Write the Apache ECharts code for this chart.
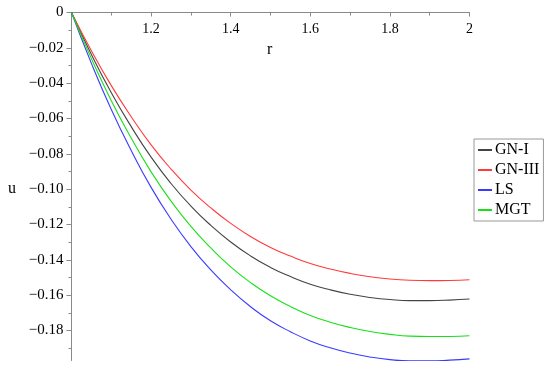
<!DOCTYPE html>
<html><head><meta charset="utf-8">
<script src="https://cdn.jsdelivr.net/npm/echarts@6/dist/echarts.min.js"></script>
<style>html,body{margin:0;padding:0;background:#fff}#c{width:550px;height:370px}</style>
</head><body><div id="c"></div>
<script>
const rValues = [1.00,1.05,1.10,1.15,1.20,1.25,1.30,1.35,1.40,1.45,1.50,1.55,1.60,1.65,1.70,1.75,1.80,1.85,1.90,1.95,2.00];
const gn1  = [0,-0.0238,-0.0454,-0.0646,-0.0819,-0.0968,-0.1096,-0.1205,-0.1299,-0.1378,-0.1443,-0.1495,-0.1538,-0.1570,-0.1595,-0.1613,-0.1625,-0.1631,-0.1631,-0.1628,-0.1622];
const gn3  = [0,-0.0217,-0.0414,-0.0590,-0.0749,-0.0886,-0.1005,-0.1106,-0.1194,-0.1268,-0.1330,-0.1379,-0.1421,-0.1452,-0.1477,-0.1496,-0.1509,-0.1516,-0.1518,-0.1517,-0.1513];
const ls   = [0,-0.0288,-0.0549,-0.0781,-0.0990,-0.1170,-0.1325,-0.1457,-0.1570,-0.1666,-0.1745,-0.1807,-0.1859,-0.1898,-0.1928,-0.1950,-0.1965,-0.1972,-0.1972,-0.1968,-0.1961];
const mgt  = [0,-0.0261,-0.0499,-0.0711,-0.0902,-0.1068,-0.1211,-0.1333,-0.1440,-0.1529,-0.1604,-0.1664,-0.1715,-0.1753,-0.1783,-0.1806,-0.1822,-0.1832,-0.1834,-0.1834,-0.1830];
const seriesNames = ['GN-I','GN-III','LS','MGT'];
const yTicks = [0,-0.02,-0.04,-0.06,-0.08,-0.10,-0.12,-0.14,-0.16,-0.18];
const yMinorTicks = [-0.01,-0.03,-0.05,-0.07,-0.09,-0.11,-0.13,-0.15,-0.17,-0.19];

const font = '"Liberation Serif", "Times New Roman", serif';
const axisGray = '#8a8a8a';
const colors = ['#444444','#ff3a3a','#3a3aff','#18e018'];
const datas = [gn1, gn3, ls, mgt];

const chart = echarts.init(document.getElementById('c'));
chart.setOption({
  animation: false,
  grid: {left: 71.5, right: 80.5, top: 12.5, bottom: 9.5},
  xAxis: {
    type: 'value', position: 'top', min: 1, max: 2, interval: 0.2,
    axisLine: {onZero: false, lineStyle: {color: axisGray, width: 1}},
    axisTick: {show: true, inside: true, length: 4, lineStyle: {color: axisGray}},
    minorTick: {show: true, splitNumber: 2, length: 3, lineStyle: {color: axisGray}},
    splitLine: {show: false},
    axisLabel: {inside: true, margin: 10, color: '#000', fontFamily: font, fontSize: 14,
      showMinLabel: true, showMaxLabel: true,
      formatter: v => (Math.abs(v - 1) < 1e-9 ? '' : String(Math.round(v*10)/10))}
  },
  yAxis: [{
    type: 'value', min: -0.197, max: 0,
    axisLine: {show: true, lineStyle: {color: axisGray, width: 1}},
    axisTick: {show: true, length: 5, customValues: yTicks, lineStyle: {color: axisGray}},
    splitLine: {show: false},
    axisLabel: {customValues: yTicks, margin: 8, color: '#000', fontFamily: font, fontSize: 15,
      formatter: v => (Math.abs(v) < 1e-9 ? '0' : '\u2212' + Math.abs(v).toFixed(2))}
  }, {
    type: 'value', min: -0.197, max: 0, position: 'left',
    axisLine: {show: false},
    axisTick: {show: true, length: 3, customValues: yMinorTicks, lineStyle: {color: axisGray}},
    splitLine: {show: false},
    axisLabel: {show: false}
  }],
  legend: {
    orient: 'vertical', left: 474, top: 139, padding: [3, 4, 3, 4],
    itemWidth: 14, itemHeight: 2, itemGap: 4, icon: 'rect',
    borderColor: '#999', borderWidth: 1, borderRadius: 0,
    textStyle: {fontFamily: font, fontSize: 16, color: '#000', padding: [0,0,0,-2]},
    data: seriesNames
  },
  graphic: [
    {type: 'text', left: 267, top: 42, style: {text: 'r', font: '16px "Liberation Serif"', fill: '#000'}},
    {type: 'text', left: 8, top: 181, style: {text: 'u', font: '16px "Liberation Serif"', fill: '#000'}}
  ],
  series: seriesNames.map((n, i) => ({
    name: n, type: 'line', smooth: true, symbol: 'none', showSymbol: false,
    lineStyle: {color: colors[i], width: 1.1}, itemStyle: {color: colors[i]},
    data: rValues.map((r, j) => [r, datas[i][j]])
  }))
});
</script></body></html>
